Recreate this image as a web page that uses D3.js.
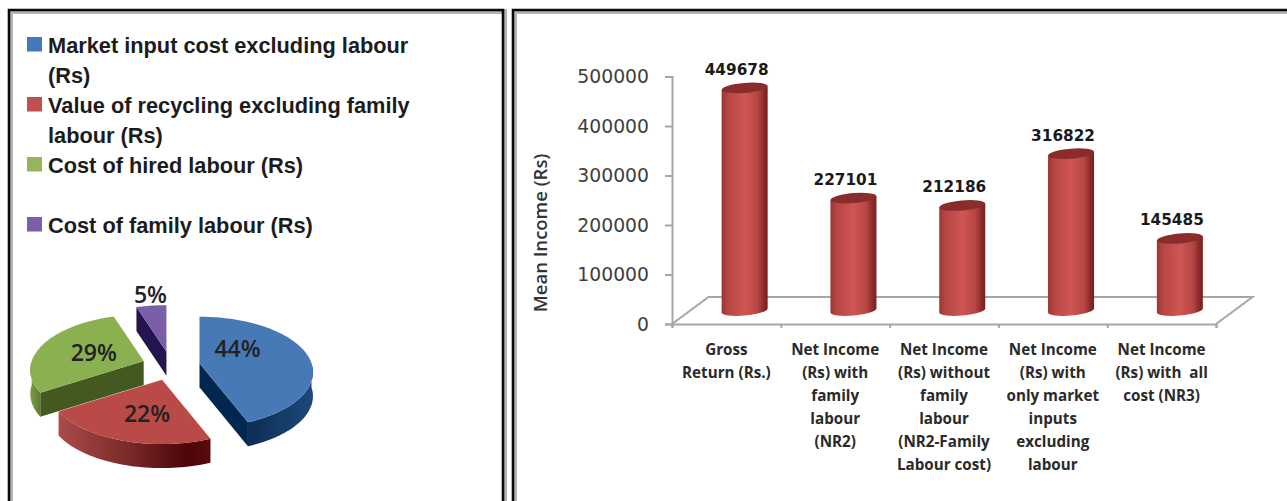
<!DOCTYPE html>
<html>
<head>
<meta charset="utf-8">
<script src="https://cdn.jsdelivr.net/npm/d3@7"></script>
<style>
  html, body { margin: 0; padding: 0; background: #fff; }
  svg { display: block; }
</style>
</head>
<body>
<svg id="chart" width="1287" height="501"></svg>
<script>
// Cost shares (pie)
const costNames = ["Market input cost excluding labour (Rs)", "Value of recycling excluding family labour (Rs)", "Cost of hired labour (Rs)", "Cost of family labour (Rs)"];
const costShares = [44, 22, 29, 5];
const costLegendLines = [["Market input cost excluding labour", "(Rs)"], ["Value of recycling excluding family", "labour (Rs)"], ["Cost of hired labour (Rs)", ""], ["Cost of family labour (Rs)"]];

// Mean income (cylinders)
const incomeCategories = ["Gross Return", "NR2 with family", "NR2 without family", "Market inputs only", "NR3"];
const incomeValues = [449678, 227101, 212186, 316822, 145485];
const incomeLabelLines = [
  ["Gross", "Return (Rs.)"],
  ["Net Income", "(Rs) with", "family", "labour", "(NR2)"],
  ["Net Income", "(Rs) without", "family", "labour", "(NR2-Family", "Labour cost)"],
  ["Net Income", "(Rs) with", "only market", "inputs", "excluding", "labour"],
  ["Net Income", "(Rs) with  all", "cost (NR3)"]
];
const incomeTicks = [0, 100000, 200000, 300000, 400000, 500000];

const svg = d3.select("#chart");
const defs = svg.append("defs");

function linearGradient(id, stops) {
  const g = defs.append("linearGradient").attr("id", id).attr("x1", 0).attr("x2", 1).attr("y1", 0).attr("y2", 0);
  stops.forEach(([o, c]) => g.append("stop").attr("offset", o).attr("stop-color", c));
}
linearGradient("cyl", [[0, "#9c3331"], [0.12, "#b54543"], [0.5, "#cf5653"], [0.78, "#b64744"], [0.92, "#8a2a29"], [1, "#742020"]]);
linearGradient("rimRed", [[0, "#a94b49"], [0.45, "#7c2a2a"], [0.85, "#4c0508"], [1, "#5a0a0c"]]);
linearGradient("rimBlue", [[0, "#0d2e55"], [1, "#1d4878"]]);
linearGradient("rimGreen", [[0, "#7d9f47"], [1, "#5c7a30"]]);

// Panel frames: open at the bottom, black outer rule with a soft grey inner edge
function panel(x0, x1, openRight) {
  const top = 10, bottom = 501;
  const path = openRight
    ? `M${x0},${bottom}V${top}H${x1}`
    : `M${x0},${bottom}V${top}H${x1}V${bottom}`;
  svg.append("path").attr("d", path).attr("fill", "none").attr("stroke", "#b5b5b5").attr("stroke-width", 5)
    .attr("transform", "translate(1.5,1.5)");
  svg.append("path").attr("d", path).attr("fill", "none").attr("stroke", "#0a0a0a").attr("stroke-width", 2.6);
}
panel(9, 503, false);
panel(513, 1290, true);

// ---------- Legend ----------
const legendColors = ["#4478b8", "#c0504d", "#93b55c", "#7b5ea7"];
const legendRowStep = 30, legendTop = 53;
let legendRow = 0;
costLegendLines.forEach((lines, i) => {
  svg.append("rect").attr("x", 27).attr("y", legendTop + legendRow * legendRowStep - 16)
    .attr("width", 15).attr("height", 14.5).attr("fill", legendColors[i]);
  lines.forEach(line => {
    svg.append("text")
      .attr("transform", `translate(48,${legendTop + legendRow * legendRowStep}) scale(0.968,1)`)
      .attr("font-family", "'Liberation Sans', Arial, sans-serif").attr("font-weight", 700)
      .attr("font-size", 22.5).attr("fill", "#1c1c1c").text(line);
    legendRow++;
  });
});

// ---------- Exploded perspective pie ----------
const pieG = svg.append("g");
const pieLayout = d3.pie().sort(null).startAngle(0).endAngle(2 * Math.PI);
const slices = pieLayout(costShares);
const R = 112, Ry = 54, persp = 0.16, depth = 24, pieCx = 171, pieCy = 366, explode = 29;

function project(theta, f = 1) {
  const u = Math.sin(theta) * f, v = Math.cos(theta) * f;
  const s = 1 / (1 + persp * v);
  return [R * u * s, -Ry * v * s];
}
const topColors = ["#4779b6", "#b94a48", "#8bb04f", "#7a5ea8"];
const wallColors = ["#02274f", null, "#44591f", "#24144f"];
const rimFills = ["url(#rimBlue)", "url(#rimRed)", "url(#rimGreen)", null];
const labelOffsets = [[38, -15], [-15, 33], [-50, -9], [-16, -58]];
const line = d3.line();

function apexOf(d) {
  const mid = (d.startAngle + d.endAngle) / 2;
  return [pieCx + explode * Math.sin(mid), pieCy - explode * 0.5 * Math.cos(mid)];
}
function arcPoints(a0, a1) {
  const n = Math.max(2, Math.ceil((a1 - a0) / 0.03));
  return d3.range(n + 1).map(i => project(a0 + (a1 - a0) * i / n));
}

// Back slices first so the nearer ones sit on top of them
[3, 2, 1, 0].forEach(i => {
  const d = slices[i];
  const [ax, ay] = apexOf(d);
  const g = pieG.append("g").attr("transform", `translate(${ax},${ay})`);
  const a0 = d.startAngle, a1 = d.endAngle;

  // Outer rim, only the part of the edge that faces the viewer
  const rimA0 = Math.max(a0, Math.PI / 2), rimA1 = Math.min(a1, 3 * Math.PI / 2);
  if (rimFills[i] && rimA1 > rimA0) {
    const rim = arcPoints(rimA0, rimA1);
    const lowered = rim.map(([x, y]) => [x, y + depth]).reverse();
    g.append("path").attr("d", line(rim.concat(lowered)) + "Z").attr("fill", rimFills[i]);
  }

  // Cut face seen from the front
  if (wallColors[i]) {
    const edge = project(i === 0 ? a1 : a0);
    g.append("path")
      .attr("d", line([[0, 0], edge, [edge[0], edge[1] + depth], [0, depth]]) + "Z")
      .attr("fill", wallColors[i]);
  }

  // Top surface
  g.append("path")
    .attr("d", line([[0, 0]].concat(arcPoints(a0, a1))) + "Z")
    .attr("fill", topColors[i]);
});

// Percentage labels
slices.forEach((d, i) => {
  const [ax, ay] = apexOf(d);
  svg.append("text")
    .attr("x", ax + labelOffsets[i][0]).attr("y", ay + labelOffsets[i][1])
    .attr("text-anchor", "middle").attr("dominant-baseline", "central")
    .attr("font-family", "'Open Sans', sans-serif").attr("font-weight", 600)
    .attr("font-size", 23).attr("fill", "#222").text(d.data + "%");
});

// ---------- Cylinder chart ----------
const y = d3.scaleLinear().domain([0, 500000]).range([324, 76.5]);
const x = d3.scaleBand().domain(incomeCategories).range([672, 1216]);
const floorDx = 36.5, floorDy = -27;
const axisGrey = "#a6a6a6";

// Floor
svg.append("path")
  .attr("d", line([[x.range()[0], y(0)], [x.range()[0] + floorDx, y(0) + floorDy], [x.range()[1] + floorDx, y(0) + floorDy], [x.range()[1], y(0)]]))
  .attr("fill", "none").attr("stroke", axisGrey).attr("stroke-width", 2);

const yAxis = d3.axisLeft(y).tickValues(incomeTicks).tickSize(7).tickPadding(16).tickFormat(d3.format("d"));
const yG = svg.append("g").attr("transform", `translate(${x.range()[0]},0)`).call(yAxis);
yG.select(".domain").attr("stroke", axisGrey).attr("stroke-width", 2);
yG.selectAll(".tick line").attr("stroke", axisGrey).attr("stroke-width", 2);
yG.selectAll(".tick text").attr("font-family", "'DejaVu Sans', sans-serif").attr("font-size", 18.8).attr("fill", "#404040");

const xEdges = incomeCategories.map(c => x(c)).concat(x.range()[1]);
const xAxis = d3.axisBottom(d3.scaleLinear().domain(x.range()).range(x.range())).tickValues(xEdges).tickSize(4).tickFormat("");
const xG = svg.append("g").attr("transform", `translate(0,${y(0)})`).call(xAxis);
xG.select(".domain").attr("stroke", axisGrey).attr("stroke-width", 2);
xG.selectAll(".tick line").attr("stroke", axisGrey).attr("stroke-width", 2);

svg.append("text")
  .attr("transform", "translate(547,233) rotate(-90)")
  .attr("text-anchor", "middle")
  .attr("font-family", "'Open Sans', sans-serif").attr("font-weight", 600)
  .attr("font-size", 18.5).attr("fill", "#333").text("Mean Income (Rs)");

// One tilted cylinder per value
const cylRx = 23, cylRy = 5, tilt = 2;
const cyl = svg.selectAll("g.cyl").data(incomeValues).join("g").attr("class", "cyl")
  .attr("transform", (d, i) => `translate(${x(incomeCategories[i]) + x.bandwidth() / 2 + floorDx / 2},${floorDy / 2})`);
cyl.append("path")
  .attr("d", d => {
    const t = y(d), b = y(0);
    return `M${-cylRx},${t + tilt}V${b + tilt}A${cylRx},${cylRy} -5 0 0 ${cylRx},${b - tilt}V${t - tilt}Z`;
  })
  .attr("fill", "url(#cyl)");
cyl.append("ellipse")
  .attr("cy", d => y(d)).attr("rx", cylRx).attr("ry", cylRy)
  .attr("transform", d => `rotate(-5,0,${y(d)})`)
  .attr("fill", "#8b2c2c");
cyl.append("text")
  .attr("x", -8).attr("y", d => y(d) - 13)
  .attr("text-anchor", "middle")
  .attr("font-family", "'DejaVu Sans', sans-serif").attr("font-weight", 700)
  .attr("font-size", 15.3).attr("fill", "#1a1a1a").text(d => d);

// Wrapped category labels under the floor
incomeLabelLines.forEach((lines, i) => {
  const cx = x(incomeCategories[i]) + x.bandwidth() / 2;
  lines.forEach((t, j) => {
    svg.append("text").attr("x", cx).attr("y", 355 + j * 23)
      .attr("text-anchor", "middle").attr("xml:space", "preserve")
      .attr("font-family", "'Open Sans', sans-serif").attr("font-weight", 700)
      .attr("font-size", 15.2).attr("fill", "#2a2a2a").text(t);
  });
});
</script>
</body>
</html>
